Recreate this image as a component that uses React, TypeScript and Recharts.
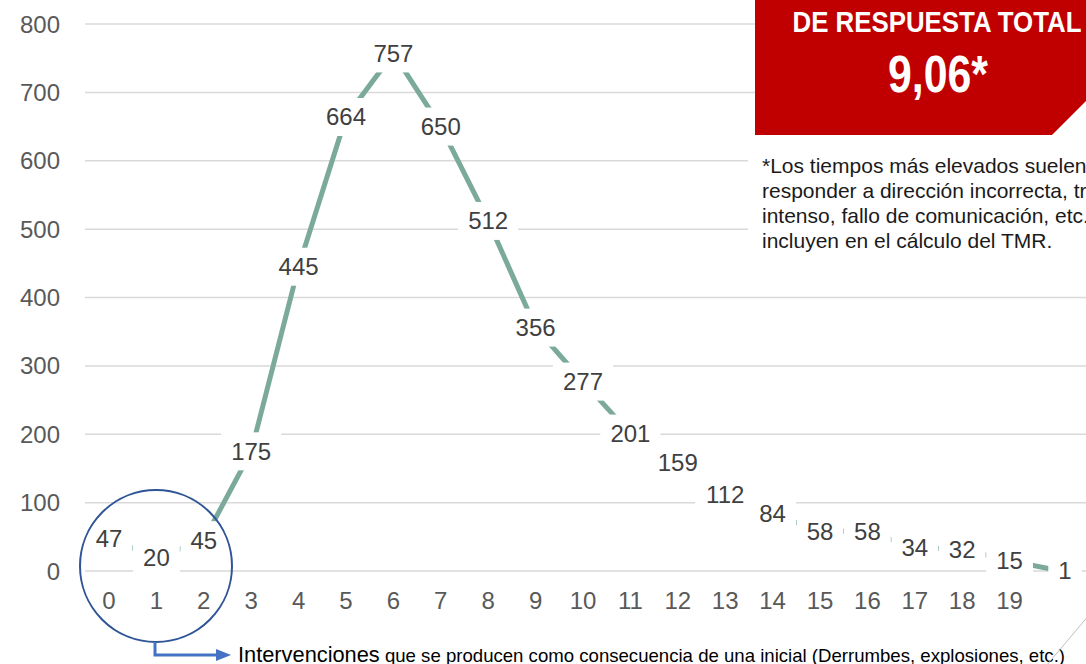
import { LineChart, Line, XAxis, YAxis, CartesianGrid, LabelList } from 'recharts';

// minutes of response time (category) and number of interventions
const minutes = ['0', '1', '2', '3', '4', '5', '6', '7', '8', '9', '10', '11', '12', '13', '14', '15', '16', '17', '18', '19', ''];
const interventions = [47, 20, 45, 175, 445, 664, 757, 650, 512, 356, 277, 201, 159, 112, 84, 58, 58, 34, 32, 15, 1];
const yTicks = [0, 100, 200, 300, 400, 500, 600, 700, 800];

const chartData = minutes.map((m, i) => ({ minute: m, total: interventions[i] }));

const FONT = "'Liberation Sans', Arial, sans-serif";
const LINE_COLOR = '#7BAA9C';

// Excel-style data label: white box behind the number hides line and gridlines
const BoxLabel = (props: any) => {
  const { x, y, value, index } = props;
  const txt = String(value);
  const w = txt.length * 13.4 + 20;
  const h = 38;
  // the last label is nudged right like the spreadsheet does near the edge
  const cx = index === interventions.length - 1 ? x + 8 : x;
  return (
    <g>
      <rect x={cx - w / 2} y={y - h / 2} width={w} height={h} fill="#fff" />
      <text
        x={cx}
        y={y}
        dy="0.35em"
        textAnchor="middle"
        fill="#404040"
        style={{ fontSize: 24, fontFamily: FONT }}
      >
        {txt}
      </text>
    </g>
  );
};

const footnote = [
  '*Los tiempos más elevados suelen deberse a',
  'responder a dirección incorrecta, tráfico',
  'intenso, fallo de comunicación, etc. No se',
  'incluyen en el cálculo del TMR.',
];

export default function App() {
  return (
    <div
      style={{
        position: 'fixed',
        left: 0,
        top: 0,
        width: 1086,
        height: 664,
        overflow: 'hidden',
        background: '#fff',
        fontFamily: FONT,
      }}
    >
      <div style={{ position: 'absolute', left: 0, top: 0 }}>
        <LineChart
          width={1200}
          height={664}
          data={chartData}
          margin={{ top: 24, right: 0, bottom: 43, left: 0 }}
        >
          <CartesianGrid vertical={false} stroke="#D9D9D9" strokeWidth={1.5} />
          <XAxis
            dataKey="minute"
            height={50}
            padding={{ left: 24, right: 143 }}
            axisLine={false}
            tickLine={false}
            tickSize={0}
            tickMargin={21}
            interval={0}
            tick={{ fill: '#595959', fontSize: 24, fontFamily: FONT }}
          />
          <YAxis
            width={85}
            domain={[0, 800]}
            ticks={yTicks}
            axisLine={false}
            tickLine={false}
            tickSize={0}
            tickMargin={25}
            tick={{ fill: '#595959', fontSize: 24, fontFamily: FONT }}
          />
          <Line
            type="linear"
            dataKey="total"
            stroke={LINE_COLOR}
            strokeWidth={5}
            dot={false}
            isAnimationActive={false}
          >
            <LabelList dataKey="total" content={BoxLabel} />
          </Line>
        </LineChart>
      </div>

      <svg
        width={1086}
        height={664}
        style={{ position: 'absolute', left: 0, top: 0, pointerEvents: 'none' }}
      >
        {/* red heading panel with clipped corner */}
        <path d="M755 -10 H1130 V101 L1052 135 H755 Z" fill="#C00000" />
        <path d="M1052 135 L1086 101 V135 Z" fill="#fff" />
        <text
          x={937}
          y={32}
          textAnchor="middle"
          fill="#fff"
          textLength={289}
          lengthAdjust="spacingAndGlyphs"
          style={{ fontSize: 30, fontWeight: 'bold', fontFamily: "'Liberation Sans Narrow', " + FONT }}
        >
          DE RESPUESTA TOTAL
        </text>
        <text
          x={938}
          y={92}
          textAnchor="middle"
          fill="#fff"
          textLength={100}
          lengthAdjust="spacingAndGlyphs"
          style={{ fontSize: 52, fontWeight: 'bold', fontFamily: "'Liberation Sans Narrow', " + FONT }}
        >
          9,06*
        </text>

        {/* footnote box */}
        <rect x={748} y={142} width={400} height={122} fill="#fff" />
        {footnote.map((line, i) => (
          <text
            key={i}
            x={762}
            y={173 + i * 25}
            fill="#1a1a1a"
            style={{ fontSize: 21, fontFamily: FONT }}
          >
            {line}
          </text>
        ))}

        {/* highlight of the first minutes */}
        <circle cx={156} cy={566} r={76} fill="none" stroke="#2F5597" strokeWidth={2} />
        <polyline
          points="155,642 155,655 218,655"
          fill="none"
          stroke="#4472C4"
          strokeWidth={3}
        />
        <polygon points="216,649 231,655 216,661" fill="#4472C4" />
        <text x={238} y={662} fill="#000" style={{ fontFamily: FONT }}>
          <tspan style={{ fontSize: 21.8 }}>Intervenciones</tspan>
          <tspan style={{ fontSize: 18.6 }}> que se producen como consecuencia de una inicial (Derrumbes, explosiones, etc.)</tspan>
        </text>

        <line x1={1090} y1={614} x2={1046} y2={666} stroke="#BFBFBF" strokeWidth={1} />
      </svg>
    </div>
  );
}
